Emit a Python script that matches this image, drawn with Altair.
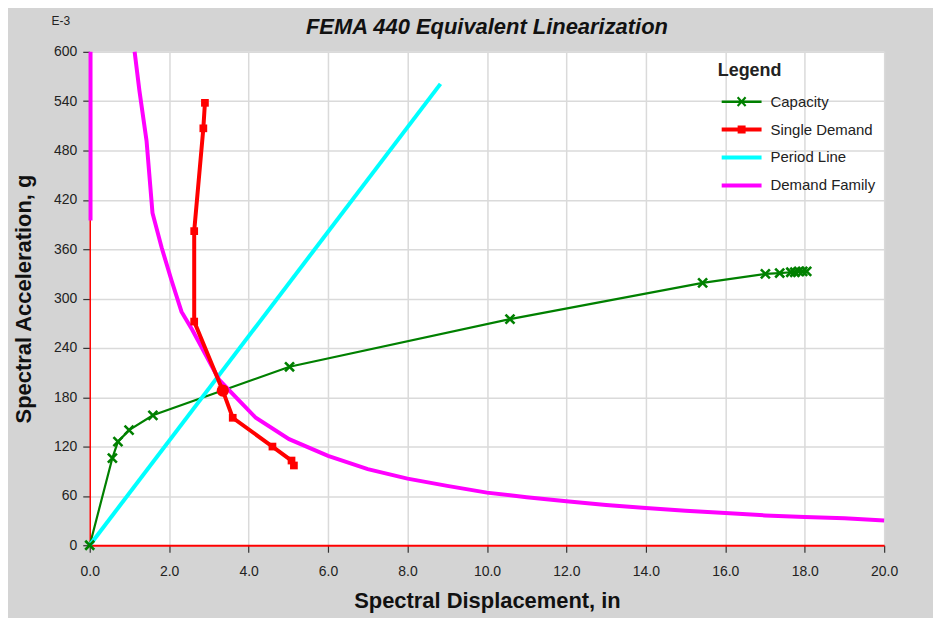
import altair as alt
import pandas as pd

# ---------------- data ----------------
series_names = ["Capacity", "Single Demand", "Period Line", "Demand Family"]
series_colors = ["#008000", "#ff0000", "#00ffff", "#ff00ff"]

cap_x = [0.0, 0.57, 0.71, 0.99, 1.59, 5.03, 10.58, 15.43, 17.01, 17.37, 17.65, 17.75, 17.85, 17.95, 18.05]
cap_y = [0, 106, 126, 140, 158, 217, 275, 319, 330, 331, 332, 332, 333, 333, 333]

sd_x = [2.90, 2.86, 2.63, 2.63, 3.35, 3.60, 4.60, 5.08, 5.14]
sd_y = [538, 507, 382, 272, 188, 155, 120, 103, 97]
sd_mark = ["square", "square", "square", "square", "circle", "square", "square", "square", "square"]

pl_x = [0.0, 8.83]
pl_y = [0, 561]

dfam_seg = [0, 0] + [1] * 26
dfam_x = [0.02, 0.02,
          1.13, 1.25, 1.43, 1.58, 1.81, 2.06, 2.31, 2.58, 3.26, 4.18, 5.02, 6.0, 7.0,
          8.0, 9.0, 10.0, 11.0, 12.0, 13.0, 14.0, 15.0, 16.0, 17.0, 18.0, 19.0, 20.0]
dfam_y = [395, 600,
          600, 553, 492, 404, 362, 322, 284, 262, 201, 155, 129, 108.6, 92.6,
          81, 72.2, 64, 58.4, 53.5, 49, 45.3, 42, 39.2, 36.3, 34.3, 32.7, 30.2]

x_ticks = [0, 2, 4, 6, 8, 10, 12, 14, 16, 18, 20]
y_ticks = [0, 60, 120, 180, 240, 300, 360, 420, 480, 540, 600]

title_text = "FEMA 440 Equivalent Linearization"
x_title = "Spectral Displacement, in"
y_title = "Spectral Acceleration, g"
unit_text = ["E-3"]

# legend symbols: line + marker (filled paths)
legend_paths = [
    "M-1,-0.06L1,-0.06L1,0.06L-1,0.06Z "
    "M-0.161,-0.259L0.239,0.181L0.161,0.259L-0.239,-0.181Z "
    "M-0.239,0.181L0.161,-0.259L0.239,-0.181L-0.161,0.259Z",
    "M-1,-0.1L1,-0.1L1,0.1L-1,0.1Z M-0.2,-0.2L0.2,-0.2L0.2,0.2L-0.2,0.2Z",
    "M-1,-0.1L1,-0.1L1,0.1L-1,0.1Z",
    "M-1,-0.1L1,-0.1L1,0.1L-1,0.1Z",
]

FONT = "Liberation Sans"
TXT = "#222222"

# ---------------- frames ----------------
cap_df = pd.DataFrame({"x": cap_x, "y": cap_y, "i": list(range(len(cap_x)))})
sd_df = pd.DataFrame({"x": sd_x, "y": sd_y, "m": sd_mark, "i": list(range(len(sd_x)))})
pl_df = pd.DataFrame({"x": pl_x, "y": pl_y, "i": list(range(len(pl_x)))})
df_df = pd.DataFrame({"x": dfam_x, "y": dfam_y, "seg": dfam_seg, "i": list(range(len(dfam_x)))})
leg_df = pd.DataFrame({"series": series_names})

xscale = alt.Scale(domain=[0, 20], nice=False, zero=False)
yscale = alt.Scale(domain=[0, 600], nice=False, zero=False)

xaxis = alt.Axis(
    values=x_ticks, format=".1f", title=x_title, grid=True,
    gridColor="#dadada", gridWidth=1.5,
    domainColor="#ff0000", domainWidth=2,
    tickColor="#333333", tickSize=7, tickWidth=1.2,
    labelFont=FONT, labelFontSize=14, labelColor=TXT, labelPadding=12,
    labelFlush=False, labelOverlap=False,
    titleFont=FONT, titleFontSize=22, titleFontWeight="bold", titleColor="#111111",
    titleBaseline="alphabetic", titleY=62,
)
yaxis = alt.Axis(
    values=y_ticks, format="d", title=y_title, grid=True,
    gridColor="#dadada", gridWidth=1.5,
    domainColor="#ff0000", domainWidth=1.5,
    tickColor="#333333", tickSize=7, tickWidth=1.2,
    labelFont=FONT, labelFontSize=14, labelColor=TXT, labelPadding=6,
    labelFlush=False, labelOverlap=False,
    titleFont=FONT, titleFontSize=22, titleFontWeight="bold", titleColor="#111111",
    titleBaseline="alphabetic", titleX=-59, titleY=247.5, titleAngle=270, titleAlign="center",
)

X = alt.X("x:Q", scale=xscale, axis=xaxis)
Y = alt.Y("y:Q", scale=yscale, axis=yaxis)

leg = alt.Legend(
    title="Legend", orient="none", legendX=630, legendY=10, padding=0,
    symbolSize=1600, symbolStrokeWidth=0, symbolOffset=4, symbolOpacity=1,
    labelOffset=9, rowPadding=0, titlePadding=2,
    labelFont=FONT, labelFontSize=15, labelColor=TXT,
    titleFont=FONT, titleFontSize=18, titleFontWeight="bold", titleColor=TXT,
)

legend_layer = alt.Chart(leg_df).mark_point(filled=True, opacity=1).encode(
    color=alt.Color("series:N", scale=alt.Scale(domain=series_names, range=series_colors), legend=leg),
    shape=alt.Shape("series:N", scale=alt.Scale(domain=series_names, range=legend_paths), legend=leg),
).transform_filter("false")

cap_line = alt.Chart(cap_df).mark_line(color=series_colors[0], strokeWidth=2.2).encode(
    x=X, y=Y, order=alt.Order("i:Q"))
pl_line = alt.Chart(pl_df).mark_line(color=series_colors[2], strokeWidth=4).encode(
    x=X, y=Y, order=alt.Order("i:Q"))
df_line = alt.Chart(df_df).mark_line(color=series_colors[3], strokeWidth=4).encode(
    x=X, y=Y, detail="seg:N", order=alt.Order("i:Q"))
sd_line = alt.Chart(sd_df).mark_line(color=series_colors[1], strokeWidth=4).encode(
    x=X, y=Y, order=alt.Order("i:Q"))

cap_pts = alt.Chart(cap_df).mark_point(
    shape="M-1,-1L1,1M-1,1L1,-1", size=81, filled=False, strokeWidth=2.6,
    color=series_colors[0], opacity=1).encode(x=X, y=Y)
sd_sq = alt.Chart(sd_df).transform_filter(alt.datum.m == "square").mark_square(
    size=60, filled=True, color=series_colors[1], opacity=1).encode(x=X, y=Y)
sd_pp = alt.Chart(sd_df).transform_filter(alt.datum.m == "circle").mark_circle(
    size=150, color=series_colors[1], opacity=1).encode(x=X, y=Y)

unit_lbl = alt.Chart(pd.DataFrame({"t": unit_text})).mark_text(
    font=FONT, fontSize=12, color=TXT, align="center", baseline="middle").encode(
    text="t:N", x=alt.value(-29), y=alt.value(-31))

chart = alt.layer(
    legend_layer, cap_line, pl_line, df_line, sd_line, cap_pts, sd_sq, sd_pp, unit_lbl
).properties(
    width=797, height=495,
    background="#d4d4d4",
    padding={"left": 82, "top": 43, "right": 49, "bottom": 72},
    autosize=alt.AutoSizeParams(type="none"),
    title=alt.TitleParams(
        text=title_text, font=FONT, fontSize=22, fontWeight="bold", fontStyle="italic",
        color="#111111", anchor="middle", frame="group", baseline="alphabetic", offset=-41,
    ),
).configure_view(fill="white", stroke=None)

chart.save("out.html", embed_options={"renderer": "svg", "actions": False})
